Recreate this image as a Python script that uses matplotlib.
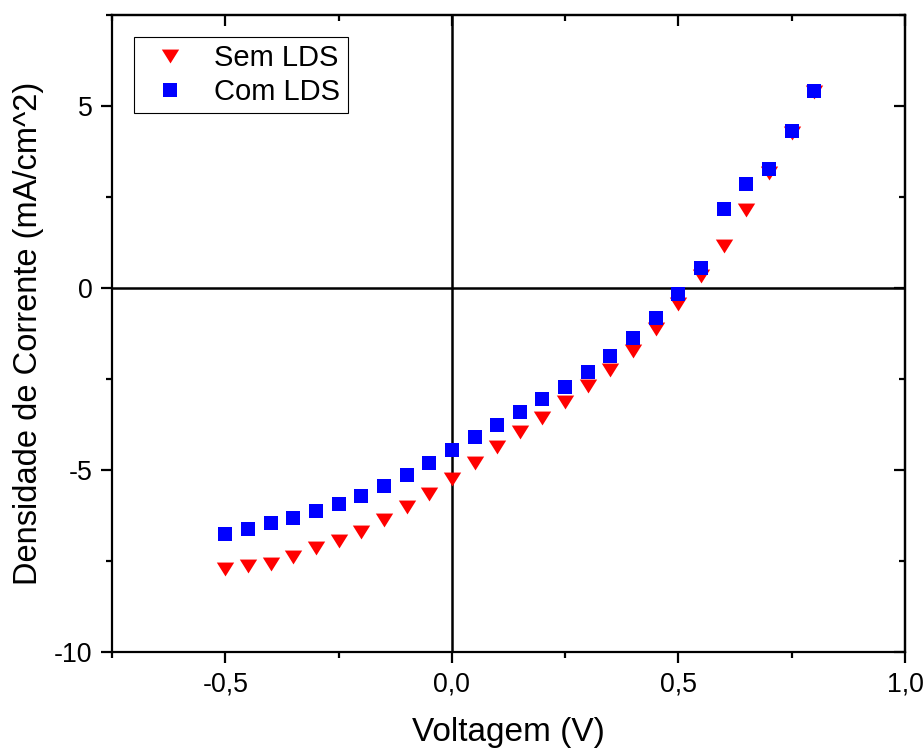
import matplotlib
matplotlib.use("Agg")
import matplotlib.pyplot as plt
from matplotlib.ticker import MultipleLocator, FuncFormatter

plt.rcParams['font.family'] = ['Liberation Sans', 'DejaVu Sans']

voltage = [-0.50, -0.45, -0.40, -0.35, -0.30, -0.25, -0.20, -0.15, -0.10, -0.05,
           0.00, 0.05, 0.10, 0.15, 0.20, 0.25, 0.30, 0.35, 0.40, 0.45,
           0.50, 0.55, 0.60, 0.65, 0.70, 0.75, 0.80]
sem_lds = [-7.73, -7.65, -7.57, -7.40, -7.15, -6.96, -6.69, -6.38, -6.02, -5.66,
           -5.25, -4.81, -4.36, -3.95, -3.56, -3.12, -2.68, -2.24, -1.74, -1.13,
           -0.44, 0.33, 1.16, 2.13, 3.15, 4.25, 5.39]
com_lds = [-6.77, -6.63, -6.46, -6.33, -6.13, -5.94, -5.72, -5.44, -5.14, -4.81,
           -4.45, -4.09, -3.76, -3.40, -3.04, -2.71, -2.32, -1.88, -1.38, -0.83,
           -0.17, 0.55, 2.18, 2.85, 3.26, 4.31, 5.41]

fig = plt.figure(figsize=(9.24, 7.51), dpi=100)
ax = fig.add_axes([112/924, 1-652/751, (905-112)/924, (652-15)/751])

tri = [(-1, 0.8), (1, 0.8), (0, -0.8)]
ax.plot(voltage, sem_lds, linestyle='none', marker=tri, markersize=12.5,
        color='#ff0000', markeredgewidth=0, label='Sem LDS', zorder=3)
ax.plot(voltage, com_lds, linestyle='none', marker='s', markersize=10,
        color='#0000ff', markeredgewidth=0, label='Com LDS', zorder=4)

ax.axhline(0, color='black', lw=1.8, zorder=2)
ax.axvline(0, color='black', lw=1.8, zorder=2)

ax.set_xlim(-0.75, 1.0)
ax.set_ylim(-10, 7.5)
ax.xaxis.set_major_locator(MultipleLocator(0.5))
ax.xaxis.set_minor_locator(MultipleLocator(0.25))
ax.yaxis.set_major_locator(MultipleLocator(5))
ax.yaxis.set_minor_locator(MultipleLocator(2.5))
ax.xaxis.set_major_formatter(FuncFormatter(lambda v, p: f"{v:.1f}".replace('.', ',')))
ax.yaxis.set_major_formatter(FuncFormatter(lambda v, p: f"{v:.0f}"))

for s in ax.spines.values():
    s.set_linewidth(1.6)

ax.tick_params(which='both', direction='out', width=1.6, labelsize=19.3, pad=6,
               top=False, right=False)
ax.tick_params(which='major', length=8)
ax.tick_params(which='minor', length=4.5)

# mirrored inward ticks on top and right
ax2 = ax.secondary_xaxis('top')
ax2.xaxis.set_major_locator(MultipleLocator(0.5))
ax2.xaxis.set_minor_locator(MultipleLocator(0.25))
ax2.tick_params(which='both', direction='in', width=1.6, labeltop=False)
ax2.tick_params(which='major', length=8)
ax2.tick_params(which='minor', length=4.5)
ax2.spines['top'].set_linewidth(1.6)
ax3 = ax.secondary_yaxis('right')
ax3.yaxis.set_major_locator(MultipleLocator(5))
ax3.yaxis.set_minor_locator(MultipleLocator(2.5))
ax3.tick_params(which='both', direction='in', width=1.6, labelright=False)
ax3.tick_params(which='major', length=8)
ax3.tick_params(which='minor', length=4.5)
ax3.spines['right'].set_linewidth(1.6)

ax.set_xlabel('Voltagem (V)', fontsize=24, labelpad=14)
ax.set_ylabel('Densidade de Corrente (mA/cm^2)', fontsize=23.5, labelpad=7)

leg = ax.legend(loc='upper left', bbox_to_anchor=(22/793, 1-22/637), fontsize=21,
                frameon=True, fancybox=False, edgecolor='black', framealpha=1,
                handletextpad=0.5, borderpad=0.25, labelspacing=0.2,
                handlelength=2.0, borderaxespad=0)
leg.get_frame().set_linewidth(0.8)

fig.savefig('out.png', dpi=100)
